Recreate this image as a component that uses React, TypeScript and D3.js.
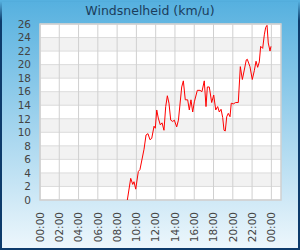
import React, { useEffect } from "react";
import * as d3 from "d3";

const TITLE = "Windsnelheid (km/u)";
const Y_TICKS = [0, 2, 4, 6, 8, 10, 12, 14, 16, 18, 20, 22, 24, 26];
const X_TICK_HOURS = [0, 2, 4, 6, 8, 10, 12, 14, 16, 18, 20, 22, 24];
const X_TICK_LABELS = ["00:00", "02:00", "04:00", "06:00", "08:00", "10:00", "12:00", "14:00", "16:00", "18:00", "20:00", "22:00", "00:00"];

// hours since midnight
const times = [
  9.06, 9.41, 9.62, 9.75, 9.93, 10.2, 10.37, 10.61, 10.79, 11.0, 11.2, 11.41, 11.59, 11.83, 11.96,
  12.11, 12.27, 12.48, 12.66, 12.86, 13.04, 13.21, 13.38, 13.56, 13.77, 13.93, 14.18, 14.36, 14.7,
  14.87, 15.07, 15.32, 15.49, 15.66, 15.84, 16.01, 16.32, 16.6, 16.8, 17.04, 17.22, 17.36, 17.56,
  17.81, 18.02, 18.23, 18.43, 18.6, 18.78, 18.95, 19.09, 19.22, 19.37, 19.53, 19.71, 19.84, 20.05,
  20.3, 20.57, 20.78, 20.99, 21.19, 21.4, 21.5, 21.78, 22.02, 22.23, 22.41, 22.58, 22.75, 22.89,
  23.1, 23.27, 23.41, 23.55, 23.68, 23.86, 23.96,
];
// km/u
const speeds = [
  0, 3.2, 2.3, 2.7, 1.6, 4.2, 4.5, 6.2, 7.5, 9.6, 9.8, 8.9, 9.1, 10.9, 10.6,
  13.3, 12.1, 11.1, 11.4, 10.3, 13.8, 15.4, 14.3, 11.8, 11.6, 11.8, 10.8, 11.8, 16.7,
  17.6, 14.8, 14.8, 13.3, 14.8, 13.0, 14.5, 16.2, 16.2, 16.0, 17.6, 13.8, 16.7, 16.7,
  14.4, 15.5, 13.3, 13.8, 13.0, 13.4, 12.2, 10.3, 10.2, 12.3, 12.8, 12.3, 14.3, 14.2,
  14.4, 14.4, 19.7, 17.8, 19.2, 20.7, 20.8, 19.7, 17.8, 19.1, 20.5, 19.6, 20.4, 22.7,
  22.4, 24.4, 25.5, 25.8, 23.2, 22.0, 22.7,
];

export default function App() {
  useEffect(() => {
    document.body.style.margin = "0";
  }, []);

  const W = 300, H = 250;
  const L = 40, R = 281, T = 24, B = 200;
  const x = d3.scaleLinear().domain([0, 25]).range([L, R]);
  const y = d3.scaleLinear().domain([0, 26]).range([B, T]);
  const data = times.map((t, i) => ({ t, v: speeds[i] }));
  const line = d3.line<{ t: number; v: number }>().x(d => x(d.t)).y(d => y(d.v));
  const font = "'DejaVu Sans', Verdana, sans-serif";

  return (
    <svg width={W} height={H} style={{ display: "block", position: "absolute", left: 0, top: 0 }}>
      <defs>
        <linearGradient id="bg" x1="0" y1="0" x2="0" y2="1">
          <stop offset="0%" stopColor="#55b0df" />
          <stop offset="100%" stopColor="#eef7fc" />
        </linearGradient>
        <linearGradient id="bd" x1="0" y1="0" x2="0" y2="1">
          <stop offset="0%" stopColor="#55b0df" />
          <stop offset="8%" stopColor="#0d3b6b" />
          <stop offset="100%" stopColor="#0d3b6b" />
        </linearGradient>
      </defs>
      <rect x={0} y={0} width={W} height={H} fill="url(#bg)" />
      <rect x={1} y={1} width={W - 2} height={H - 2} fill="none" stroke="url(#bd)" strokeWidth={2} />
      <text x={150} y={15} textAnchor="middle" fontFamily={font} fontSize={12.5} fill="#1b3d5c">{TITLE}</text>

      <rect x={L} y={T} width={R - L} height={B - T} fill="#ffffff" />
      {Y_TICKS.slice(0, -1).map((v, i) =>
        i % 2 === 1 ? (
          <rect key={"b" + v} x={L} y={y(v + 2)} width={R - L} height={y(v) - y(v + 2)} fill="#f2f2f2" />
        ) : null
      )}
      {Y_TICKS.map(v => (
        <line key={"h" + v} x1={L} x2={R} y1={y(v)} y2={y(v)} stroke="#dcdcdc" strokeWidth={1} />
      ))}
      {X_TICK_HOURS.map(h => (
        <line key={"v" + h} x1={x(h)} x2={x(h)} y1={T} y2={B} stroke="#d0d0d0" strokeWidth={1} />
      ))}
      <rect x={L} y={T} width={R - L} height={B - T} fill="none" stroke="#cfcfcf" strokeWidth={1.5} />

      <path d={line(data) || ""} fill="none" stroke="#ff0000" strokeWidth={1} />

      {Y_TICKS.map(v => (
        <text key={"yl" + v} x={31} y={y(v)} dy="0.36em" textAnchor="end" fontFamily={font} fontSize={10.5} fill="#444">{v}</text>
      ))}
      {X_TICK_HOURS.map((h, i) => (
        <text key={"xl" + i} transform={`translate(${x(h)},${212}) rotate(-90)`} dy="0.36em" textAnchor="end" fontFamily={font} fontSize={10.5} fill="#444">
          {X_TICK_LABELS[i]}
        </text>
      ))}
    </svg>
  );
}
